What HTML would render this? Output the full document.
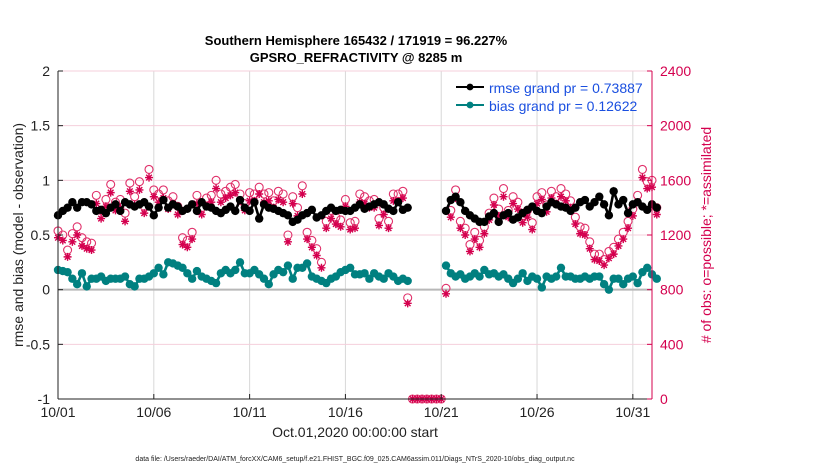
<!DOCTYPE html>
<html><head><meta charset="utf-8"><style>
body{margin:0;background:#fff;font-family:"Liberation Sans",sans-serif}
svg text{font-family:"Liberation Sans",sans-serif}
</style></head><body>
<svg id="c" width="830" height="470" xmlns="http://www.w3.org/2000/svg"></svg>
<script>
const xTicks=["10/01","10/06","10/11","10/16","10/21","10/26","10/31"];
const xTickDays=[0,5,10,15,20,25,30];
const yTicks=[-1,-0.5,0,0.5,1,1.5,2];
const y2Ticks=[0,400,800,1200,1600,2000,2400];
const rmse=[0.68,0.72,0.75,0.8,0.75,0.8,0.8,0.78,0.72,0.73,0.7,0.75,0.78,0.72,0.8,0.78,0.76,0.78,0.8,0.76,0.68,0.75,0.82,0.75,0.78,0.76,0.72,0.74,0.78,0.72,0.8,0.76,0.75,0.72,0.7,0.73,0.76,0.72,0.82,0.75,0.72,0.8,0.65,0.78,0.75,0.74,0.72,0.7,0.68,0.62,0.64,0.68,0.7,0.73,0.66,0.68,0.72,0.75,0.72,0.73,0.72,0.72,0.75,0.78,0.74,0.76,0.78,0.8,0.78,0.74,0.72,0.8,0.73,0.75,
null,null,null,null,null,null,null,
0.72,0.82,0.85,0.8,0.72,0.68,0.65,0.62,0.62,0.67,0.7,0.62,0.68,0.7,0.64,0.66,0.7,0.73,0.76,0.72,0.7,0.76,0.8,0.78,0.76,0.75,0.72,0.75,0.8,0.82,0.76,0.8,0.85,0.78,0.68,0.9,0.78,0.82,0.7,0.78,0.8,0.76,0.73,0.78,0.75];
const bias=[0.18,0.17,0.16,0.1,0.05,0.15,0.03,0.1,0.1,0.12,0.08,0.1,0.1,0.1,0.12,0.05,0.03,0.1,0.1,0.12,0.15,0.2,0.14,0.25,0.24,0.22,0.2,0.15,0.1,0.17,0.12,0.1,0.08,0.06,0.15,0.18,0.15,0.18,0.25,0.15,0.15,0.18,0.14,0.1,0.05,0.14,0.18,0.16,0.22,0.1,0.2,0.2,0.24,0.12,0.1,0.08,0.06,0.1,0.12,0.16,0.18,0.2,0.14,0.14,0.15,0.1,0.15,0.12,0.1,0.15,0.12,0.08,0.1,0.08,
null,null,null,null,null,null,null,
0.22,0.15,0.12,0.14,0.1,0.12,0.15,0.12,0.18,0.14,0.15,0.12,0.14,0.1,0.06,0.1,0.15,0.08,0.12,0.1,0.02,0.12,0.1,0.12,0.2,0.12,0.12,0.1,0.1,0.12,0.1,0.12,0.12,0.05,0.0,0.1,0.1,0.05,0.1,0.12,0.06,0.16,0.2,0.14,0.1];
const nPossible=[1230,1200,1090,1210,1260,1180,1150,1140,1490,1380,1460,1570,1440,1460,1360,1580,1480,1590,1410,1680,1530,1500,1530,1450,1480,1410,1180,1160,1220,1490,1400,1470,1490,1600,1500,1520,1550,1570,1500,1430,1510,1500,1550,1500,1510,1450,1520,1500,1200,1480,1400,1560,1220,1160,1100,1000,1300,1380,1330,1310,1460,1290,1300,1500,1480,1450,1460,1320,1400,1300,1500,1500,1520,740,
0,0,0,0,0,0,0,
810,1380,1530,1300,1250,1130,1220,1160,1260,1360,1470,1390,1540,1380,1480,1440,1340,1380,1290,1480,1510,1420,1520,1480,1540,1500,1450,1330,1260,1250,1150,1060,1060,1020,1080,1110,1170,1220,1300,1390,1490,1680,1590,1600,1400];
const nAssim=[1180,1160,1040,1150,1200,1120,1100,1090,1430,1320,1410,1510,1380,1400,1300,1520,1420,1530,1360,1620,1480,1440,1470,1390,1430,1350,1130,1110,1170,1430,1350,1410,1440,1540,1440,1470,1490,1510,1450,1380,1450,1450,1500,1440,1450,1400,1460,1440,1150,1430,1340,1500,1170,1110,1050,960,1250,1320,1280,1260,1410,1240,1250,1440,1430,1400,1400,1270,1350,1250,1450,1450,1470,700,
0,0,0,0,0,0,0,
770,1330,1470,1250,1200,1080,1170,1110,1210,1310,1420,1340,1480,1330,1430,1390,1290,1330,1240,1430,1460,1370,1470,1430,1480,1450,1400,1280,1210,1200,1100,1020,1010,980,1030,1060,1120,1170,1250,1340,1440,1620,1540,1550,1350];

const svg=document.getElementById('c');const NS="http://www.w3.org/2000/svg";
const X0=58,X1=652,Y0=399,Y1=71;
const xs=d=>X0+(d/31)*(X1-X0);
const ys=v=>Y0-(v+1)/3*(Y0-Y1);
const y2=v=>Y0-v/2400*(Y0-Y1);
function el(t,a,p){const e=document.createElementNS(NS,t);for(const k in a)e.setAttribute(k,a[k]);(p||svg).appendChild(e);return e;}
function txt(s,a,p){const e=el('text',a,p);e.textContent=s;return e;}
function starPath(x,y,r){let d='';for(let k=0;k<4;k++){const a=k*Math.PI/4;const dx=r*Math.cos(a),dy=r*Math.sin(a);d+=`M${x-dx},${y-dy}L${x+dx},${y+dy}`;}return d;}
el('rect',{x:X0,y:Y1,width:X1-X0,height:Y0-Y1,fill:'#fff'});
xTickDays.forEach(d=>{const g=el('line',{x1:xs(d),x2:xs(d),y1:Y1,y2:Y0,stroke:'#d8d8d8','stroke-width':1});
});
y2Ticks.forEach(v=>{const g=el('line',{x1:X0,x2:X1,y1:y2(v),y2:y2(v),stroke:'#f4cfdb','stroke-width':1});
});
const zl=el('line',{x1:X0,x2:X1,y1:ys(0),y2:ys(0),stroke:'#b8b8b8','stroke-width':2});

const obsG=el('g',{});
nPossible.forEach((v,i)=>{if(v==null)return;const c=el('circle',{cx:xs(i/4),cy:y2(v),r:4,fill:'none',stroke:'#e0306a','stroke-width':1.1},obsG);
});
nAssim.forEach((v,i)=>{if(v==null)return;const p=el('path',{d:starPath(xs(i/4),y2(v),4),stroke:'#d4004e','stroke-width':1.4,fill:'none'},obsG);
});
function series(arr,col,name){const g=el('g',{});
let seg=[];const segs=[];arr.forEach((v,i)=>{if(v==null){if(seg.length)segs.push(seg);seg=[];}else seg.push([xs(i/4),ys(v)]);});if(seg.length)segs.push(seg);
segs.forEach(s=>{el('polyline',{points:s.map(p=>p.join(',')).join(' '),fill:'none',stroke:col,'stroke-width':2.6},g);
s.forEach(p=>{const c=el('circle',{cx:p[0],cy:p[1],r:4.2,fill:col},g);});});}
series(bias,'#008080','bias-series');
series(rmse,'#000','rmse-series');
el('line',{x1:X0,x2:X0,y1:Y1,y2:Y0,stroke:'#222'});el('line',{x1:X0,x2:X1,y1:Y0,y2:Y0,stroke:'#222'});
el('line',{x1:X1,x2:X1,y1:Y1,y2:Y0,stroke:'#d4004e'});
yTicks.forEach(v=>{el('line',{x1:X0,x2:X0+5,y1:ys(v),y2:ys(v),stroke:'#222'});
const t=txt(String(v),{x:X0-8,y:ys(v)+5,'text-anchor':'end','font-size':14,fill:'#222'});});
y2Ticks.forEach(v=>{el('line',{x1:X1-5,x2:X1,y1:y2(v),y2:y2(v),stroke:'#d4004e'});
const t=txt(String(v),{x:X1+8,y:y2(v)+5,'font-size':14,fill:'#d4004e'});});
xTicks.forEach((s,i)=>{el('line',{x1:xs(xTickDays[i]),x2:xs(xTickDays[i]),y1:Y0,y2:Y0-5,stroke:'#222'});
const t=txt(s,{x:xs(xTickDays[i]),y:Y0+18,'text-anchor':'middle','font-size':14,fill:'#222'});});
</script>
<svg width="830" height="470" style="position:absolute;left:0;top:0" xmlns="http://www.w3.org/2000/svg">
<text x="356" y="45" text-anchor="middle" font-size="13" font-weight="bold" fill="#000">Southern Hemisphere 165432 / 171919 = 96.227%</text>
<text x="356" y="62" text-anchor="middle" font-size="13" font-weight="bold" fill="#000">GPSRO_REFRACTIVITY @ 8285 m</text>
<text transform="translate(23,235) rotate(-90)" text-anchor="middle" font-size="14" fill="#222">rmse and bias (model - observation)</text>
<text transform="translate(711,235) rotate(-90)" text-anchor="middle" font-size="14" fill="#d4004e"># of obs: o=possible; *=assimilated</text>
<text x="355" y="437" text-anchor="middle" font-size="14" fill="#222">Oct.01,2020 00:00:00 start</text>
<text x="355" y="461" text-anchor="middle" font-size="7" fill="#222">data file: /Users/raeder/DAI/ATM_forcXX/CAM6_setup/f.e21.FHIST_BGC.f09_025.CAM6assim.011/Diags_NTrS_2020-10/obs_diag_output.nc</text>
<g>
<line x1="456" x2="484" y1="87" y2="87" stroke="#000" stroke-width="2"/><circle cx="470" cy="87" r="3.4" fill="#000"/>
<text x="489" y="93" font-size="14" fill="#1a4fe0">rmse grand pr = 0.73887</text>
<line x1="456" x2="484" y1="105" y2="105" stroke="#008080" stroke-width="2"/><circle cx="470" cy="105" r="3.4" fill="#008080"/>
<text x="489" y="111" font-size="14" fill="#1a4fe0">bias grand pr = 0.12622</text>
</g>
</svg>
</body></html>
